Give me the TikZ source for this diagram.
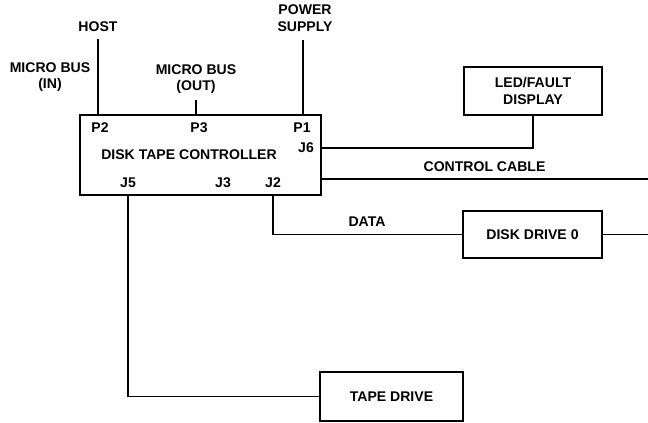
\documentclass[tikz,border=0pt]{standalone}
\usepackage{fontspec}
\setmainfont{Liberation Sans}
\usetikzlibrary{positioning}

\begin{document}
\begin{tikzpicture}[x=0.02cm,y=-0.02cm,
  lbl/.style={font=\bfseries\fontsize{8}{9.6}\selectfont,align=center,inner sep=0pt},
  unit/.style={draw,line width=0.9pt,lbl},
  wire/.style={line width=0.8pt}]
\useasboundingbox (0,0) rectangle (648,422);
% units
\node[unit,minimum width=4.82cm,minimum height=1.6cm] (ctl) at (200.5,155) {};
\node[unit,minimum width=2.76cm,minimum height=0.96cm] (led) at (533,91) {LED/FAULT\\DISPLAY};
\node[unit,minimum width=2.78cm,minimum height=0.94cm] (disk) at (532.5,234.5) {DISK DRIVE 0};
\node[unit,minimum width=2.86cm,minimum height=0.98cm] (tape) at (391.5,396.5) {TAPE DRIVE};
% controller labels
\node[lbl] (name) at (189,155) {DISK TAPE CONTROLLER};
\node[lbl] (p2) at (100,128) {P2};
\node[lbl] (p3) at (199,128) {P3};
\node[lbl] (p1) at (302,128) {P1};
\node[lbl] (j6) at (306,148) {J6};
\node[lbl] (j5) at (128,183) {J5};
\node[lbl] (j3) at (223,183) {J3};
\node[lbl] (j2) at (273,183) {J2};
% outside labels
\node[lbl] (host) at (98,27) {HOST};
\node[lbl] (mbin) at (50,77) {MICRO BUS\\(IN)};
\node[lbl] (mbout) at (196,79) {MICRO BUS\\(OUT)};
\node[lbl] (psu) at (305,18) {POWER\\SUPPLY};
\node[lbl] (cclbl) at (484.5,167) {CONTROL CABLE};
\node[lbl] (datalbl) at (367,222) {DATA};
\coordinate (ccend) at (648,179);
\coordinate (dend) at (648,234.5);
% wires
\draw[wire] ([yshift=-1.4mm]host.south) -- (host |- ctl.north);
\draw[wire] ([yshift=-1.2mm]mbout.south) -- (mbout |- ctl.north);
\draw[wire] ([xshift=-0.04cm,yshift=-1.6mm]psu.south) -- ([xshift=-0.04cm]psu |- ctl.north);
\draw[wire] (ctl.east |- j6) -| (led.south);
\draw[wire] (ctl.east |- ccend) -- (ccend);
\draw[wire] (j2 |- ctl.south) |- (disk.west);
\draw[wire] (disk.east) -- (dend);
\draw[wire] (j5 |- ctl.south) |- (tape.west);
\end{tikzpicture}
\end{document}
